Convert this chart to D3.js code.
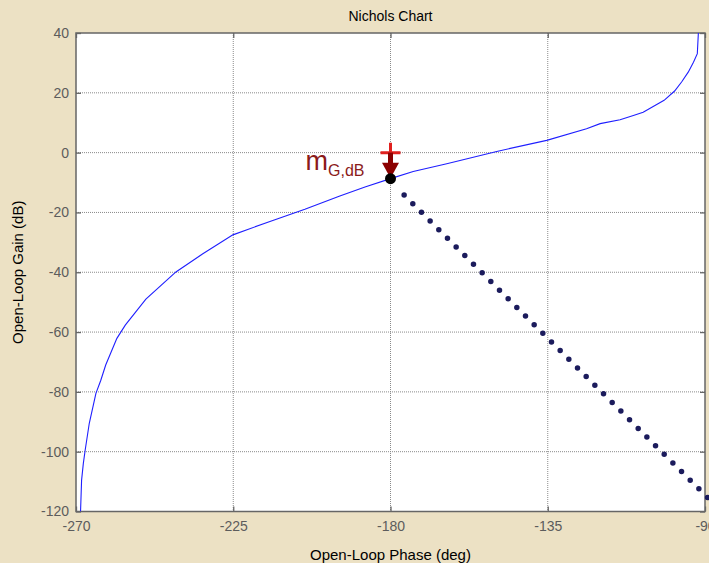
<!DOCTYPE html>
<html>
<head>
<meta charset="utf-8">
<script src="https://cdnjs.cloudflare.com/ajax/libs/d3/7.8.5/d3.min.js"></script>
<style>
  body { margin: 0; background: #ece1c4; }
  svg { display: block; font-family: "Liberation Sans", Arial, sans-serif; }
</style>
</head>
<body>
<div id="chart"></div>
<script>
// Nichols curve (phase in deg, gain in dB)
var phase = [-268.7, -268.4, -267.9, -267.4, -266.2, -264.3, -262.9, -261.5, -258.3, -255.9,
             -250.0, -241.4, -233.7, -225.1, -214.5, -204.5, -194.5, -187.3, -180.0, -173.5,
             -163.9, -149.6, -135.3, -123.9, -120.0, -114.3, -110.5, -107.7, -101.7, -98.7,
             -96.7, -94.8, -93.3, -92.2, -91.9];
var gain = [-120.0, -109.5, -103.9, -99.7, -90.5, -80.5, -76.1, -71.0, -62.1, -57.7,
            -49.0, -39.9, -33.8, -27.5, -23.0, -18.9, -14.5, -11.5, -8.7, -6.3,
            -3.7, 0.4, 4.1, 8.0, 9.7, 11.0, 12.4, 13.5, 17.5, 20.6,
            23.6, 26.9, 30.2, 33.1, 40.0];

// gain margin marker: point on the curve at -180 deg and the 0 dB target
var marginPhase = -180;
var marginGain = -8.7;
var targetGain = 0;

// dotted line (first and last dot), 36 dots
var dotPhase = [-176.1, -89.2];
var dotGain = [-14.2, -115.4];
var dotCount = 36;

// ticks
var xTicks = [-270, -225, -180, -135, -90];
var yTicks = [-120, -100, -80, -60, -40, -20, 0, 20, 40];

var width = 709, height = 563;
var margin = {top: 33, right: 4, bottom: 51.5, left: 76};

var svg = d3.select("#chart").append("svg")
    .attr("width", width)
    .attr("height", height);

var x = d3.scaleLinear().domain([-270, -90]).range([margin.left, width - margin.right]);
var y = d3.scaleLinear().domain([-120, 40]).range([height - margin.bottom, margin.top]);

// plain hyphen like the original, not the unicode minus
var fmt = function(d) { return String(d); };

// white plot area
svg.append("rect")
    .attr("x", x(-270)).attr("y", y(40))
    .attr("width", x(-90) - x(-270)).attr("height", y(-120) - y(40))
    .attr("fill", "#fff");

svg.append("clipPath").attr("id", "clip")
  .append("rect")
    .attr("x", x(-270)).attr("y", y(40))
    .attr("width", x(-90) - x(-270)).attr("height", y(-120) - y(40));

// grid lines (dotted)
svg.append("g").selectAll("line")
    .data(xTicks.slice(1, -1))
    .enter().append("line")
    .attr("x1", function(d) { return x(d); }).attr("x2", function(d) { return x(d); })
    .attr("y1", y(40)).attr("y2", y(-120))
    .attr("stroke", "#8a8a8a").attr("stroke-width", 1).attr("stroke-dasharray", "1,1");

svg.append("g").selectAll("line")
    .data(yTicks.slice(1, -1))
    .enter().append("line")
    .attr("x1", x(-270)).attr("x2", x(-90))
    .attr("y1", function(d) { return y(d); }).attr("y2", function(d) { return y(d); })
    .attr("stroke", "#8a8a8a").attr("stroke-width", 1).attr("stroke-dasharray", "1,1");

// axes, ticks pointing inward
var xAxis = svg.append("g")
    .attr("transform", "translate(0," + y(-120) + ")")
    .call(d3.axisBottom(x).tickValues(xTicks).tickFormat(fmt).tickSizeInner(-5).tickSizeOuter(0).tickPadding(10));
var yAxis = svg.append("g")
    .attr("transform", "translate(" + x(-270) + ",0)")
    .call(d3.axisLeft(y).tickValues(yTicks).tickFormat(fmt).tickSizeInner(-5).tickSizeOuter(0).tickPadding(7));
var xTop = svg.append("g")
    .attr("transform", "translate(0," + y(40) + ")")
    .call(d3.axisTop(x).tickValues(xTicks).tickSizeInner(-5).tickSizeOuter(0).tickFormat(""));
var yRight = svg.append("g")
    .attr("transform", "translate(" + x(-90) + ",0)")
    .call(d3.axisRight(y).tickValues(yTicks).tickSizeInner(-5).tickSizeOuter(0).tickFormat(""));

[xAxis, yAxis, xTop, yRight].forEach(function(a) {
    a.select(".domain").remove();
    a.selectAll("line").attr("stroke", "#666").attr("stroke-width", 1.3);
    a.selectAll("text").attr("fill", "#5c5c5c").style("font-size", "14px");
});

// box
svg.append("rect")
    .attr("x", x(-270)).attr("y", y(40))
    .attr("width", x(-90) - x(-270)).attr("height", y(-120) - y(40))
    .attr("fill", "none").attr("stroke", "#666").attr("stroke-width", 1.5);

// Nichols curve
var line = d3.line()
    .x(function(d, i) { return x(phase[i]); })
    .y(function(d, i) { return y(gain[i]); });

svg.append("path")
    .datum(phase)
    .attr("clip-path", "url(#clip)")
    .attr("d", line)
    .attr("fill", "none")
    .attr("stroke", "#1f1fff")
    .attr("stroke-width", 1.1);

// dotted line
var x0 = x(dotPhase[0]), y0 = y(dotGain[0]), x1 = x(dotPhase[1]), y1 = y(dotGain[1]);
var len = Math.sqrt((x1 - x0) * (x1 - x0) + (y1 - y0) * (y1 - y0));
// a hair shorter spacing so the last dot is not dropped
var gap = len / (dotCount - 1) - 0.01;
svg.append("line")
    .attr("x1", x0).attr("y1", y0).attr("x2", x1).attr("y2", y1)
    .attr("stroke", "#1b1b5c")
    .attr("stroke-width", 5.5)
    .attr("stroke-linecap", "round")
    .attr("stroke-dasharray", "0," + gap);

// red plus at 0 dB
var px = x(marginPhase), py = y(targetGain);
svg.append("path")
    .attr("d", "M" + (px - 10) + "," + py + "H" + (px + 10) + "M" + px + "," + (py - 10) + "V" + (py + 10))
    .attr("stroke", "#e0201e").attr("stroke-width", 3).attr("fill", "none");

// arrow down to the curve point
var ty = y(marginGain);
svg.append("line")
    .attr("x1", px).attr("y1", py).attr("x2", px).attr("y2", ty - 14)
    .attr("stroke", "#8b0000").attr("stroke-width", 5);
svg.append("path")
    .attr("d", "M" + (px - 8.5) + "," + (ty - 16) + "L" + (px + 8.5) + "," + (ty - 16) + "L" + px + "," + (ty - 0.5) + "Z")
    .attr("fill", "#8b0000");

svg.append("circle")
    .attr("cx", px).attr("cy", ty).attr("r", 5.5)
    .attr("fill", "#000");

// label
var label = svg.append("text")
    .attr("x", px - 26).attr("y", py + 17)
    .attr("text-anchor", "end")
    .attr("fill", "#8b1a1a");
label.append("tspan").style("font-size", "27px").text("m");
label.append("tspan").style("font-size", "16px").attr("dy", 6).text("G,dB");

// title and axis labels
svg.append("text")
    .attr("x", (x(-270) + x(-90)) / 2).attr("y", 21)
    .attr("text-anchor", "middle").style("font-size", "14px").attr("fill", "#000")
    .text("Nichols Chart");

svg.append("text")
    .attr("x", (x(-270) + x(-90)) / 2).attr("y", 560)
    .attr("text-anchor", "middle").style("font-size", "15px").attr("fill", "#000")
    .text("Open-Loop Phase (deg)");

svg.append("text")
    .attr("transform", "translate(23," + ((y(40) + y(-120)) / 2) + ") rotate(-90)")
    .attr("text-anchor", "middle").style("font-size", "15px").attr("fill", "#000")
    .text("Open-Loop Gain (dB)");
</script>
</body>
</html>
